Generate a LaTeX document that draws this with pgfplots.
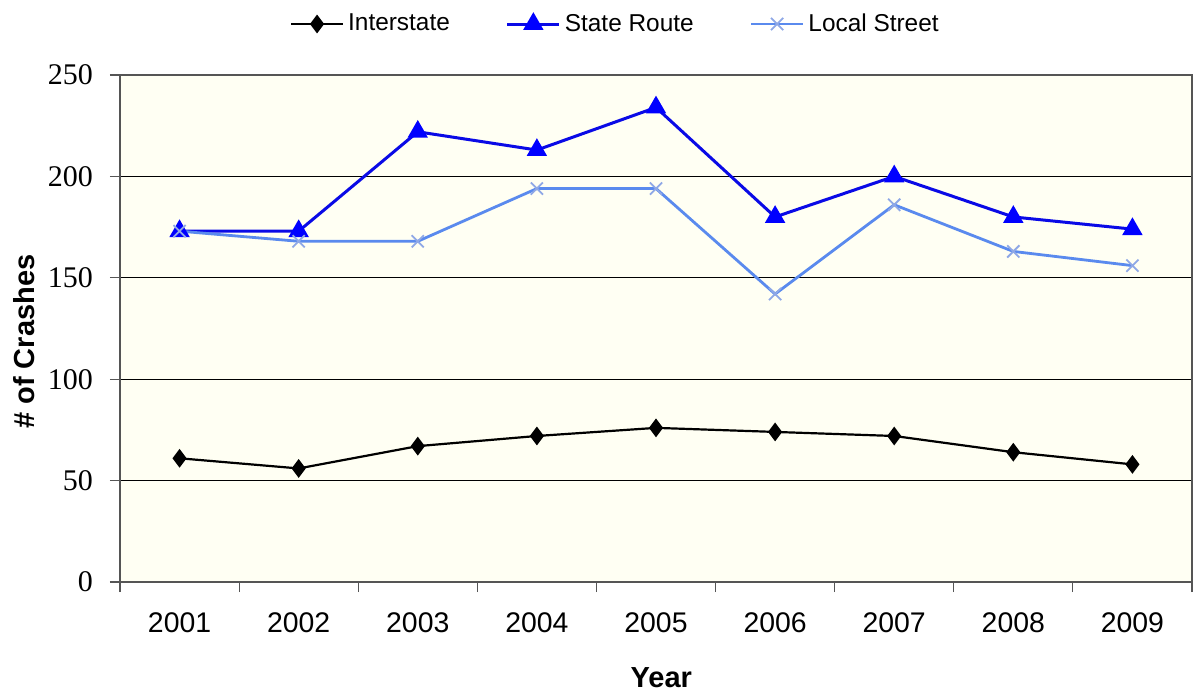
\documentclass[border=0pt]{standalone}
\usepackage{fontspec}
\setmainfont{Liberation Sans}
\newfontfamily\serifnum{Liberation Serif}
\usepackage{pgfplots}
\pgfplotsset{compat=1.18}

\definecolor{plotbg}{HTML}{FFFFF3}
\definecolor{stateblue}{HTML}{0A0AE6}
\definecolor{localblue}{HTML}{5A8AEE}
\definecolor{localmark}{HTML}{8FA8E6}
\definecolor{framegray}{HTML}{555555}

\begin{document}
\begin{tikzpicture}
\useasboundingbox (-60bp,-57bp) rectangle (537.5bp,291bp);
\begin{axis}[
  at={(0,0)}, anchor=south west,
  scale only axis,
  width=536bp, height=253.5bp,
  xmin=0.5, xmax=9.5,
  ymin=0, ymax=250,
  axis background/.style={fill=plotbg},
  axis line style={framegray, line width=0.6bp},
  xtick={1,...,9},
  xticklabels={2001,2002,2003,2004,2005,2006,2007,2008,2009},
  major x tick style={draw=none},
  minor xtick={0.5,1.5,...,9.5},
  minor x tick style={framegray, line width=0.6bp},
  ytick={0,50,...,250},
  major y tick style={framegray, line width=0.6bp},
  tick align=outside,
  major tick length=5bp,
  minor tick length=5bp,
  xtick pos=bottom, ytick pos=left,
  ymajorgrids,
  grid style={black, line width=0.5bp},
  x tick label style={font=\fontsize{14.2bp}{16bp}\selectfont, anchor=north, yshift=-7bp},
  y tick label style={font=\fontsize{15bp}{17bp}\serifnum, anchor=east, xshift=-5bp},
  yticklabel={\pgfmathprintnumber[assume math mode=true]{\tick}},
  xlabel={\textbf{Year}},
  xlabel style={font=\fontsize{14.5bp}{16bp}\selectfont, at={(axis description cs:0.505,0)}, anchor=center, yshift=-48bp},
  ylabel={\textbf{\# of Crashes}},
  ylabel style={font=\fontsize{14.5bp}{16bp}\selectfont, at={(axis description cs:-0.0896,0.474)}, anchor=center},
  legend columns=3,
  legend style={draw=none, fill=none, at={(axis description cs:0.463,1)}, anchor=center, yshift=25.5bp,
    font=\fontsize{12.2bp}{14bp}\selectfont, /tikz/every even column/.append style={column sep=26bp},
    inner sep=0pt},
  legend cell align=left,
  legend image code/.code={
    \draw[mark repeat=2, mark phase=2, #1] plot coordinates {(0bp,0bp) (13bp,0bp) (26bp,0bp)};
  },
]
\addplot[black, line width=1.1bp, mark=diamond*, mark size=3.8bp, mark options={solid, fill=black}]
  coordinates {(1,61) (2,56) (3,67) (4,72) (5,76) (6,74) (7,72) (8,64) (9,58)};
\addlegendentry{Interstate}
\addplot[stateblue, line width=1.5bp, mark=triangle*, mark size=4.4bp, mark options={solid, fill=blue, draw=blue}]
  coordinates {(1,173) (2,173) (3,222) (4,213) (5,234) (6,180) (7,200) (8,180) (9,174)};
\addlegendentry{State Route}
\addplot[localblue, line width=1.4bp, mark=x, mark size=4.3bp, mark options={solid, draw=localmark, line width=0.9bp}]
  coordinates {(1,173) (2,168) (3,168) (4,194) (5,194) (6,142) (7,186) (8,163) (9,156)};
\addlegendentry{Local Street}
\end{axis}
\end{tikzpicture}
\end{document}
